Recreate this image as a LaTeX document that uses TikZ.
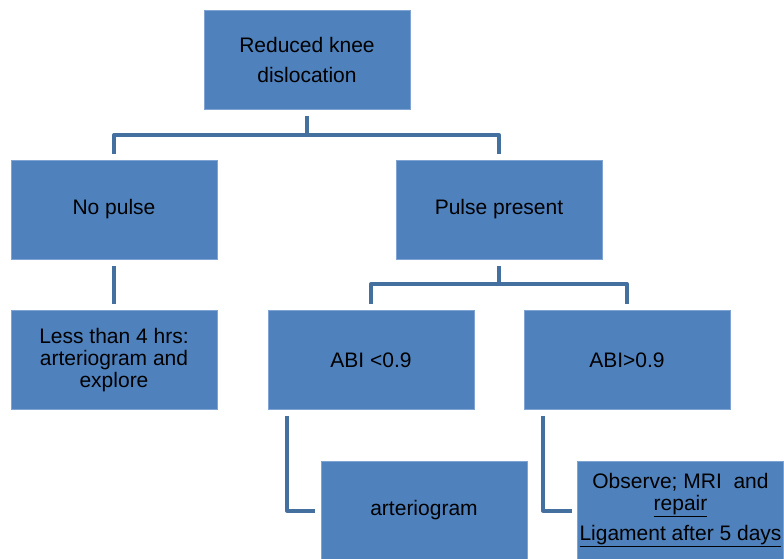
\documentclass[tikz,border=0pt]{standalone}
\usepackage{fontspec}
\setmainfont{Liberation Sans}
\usetikzlibrary{calc}
\definecolor{boxblue}{HTML}{4F81BD}
\definecolor{boxedge}{HTML}{7FA3D3}
\definecolor{connblue}{HTML}{44709F}
\tikzset{
  box/.style={rectangle, fill=boxblue, draw=boxedge, line width=0.6pt,
    minimum width=206pt, minimum height=99pt, inner sep=0pt,
    align=center, text=black, font=\fontsize{21}{22}\selectfont},
  conn/.style={draw=connblue, line width=4pt, line join=round}
}
\begin{document}
\begin{tikzpicture}[x=1pt,y=1pt]
\useasboundingbox[fill=white] (0,0) rectangle (784,558);
\node[box, font=\fontsize{21}{30}\selectfont] (top) at (307,498.5) {Reduced knee\\dislocation};
\node[box] (nopulse) at (114,348.5) {No pulse};
\node[box] (pulse) at (499,348.5) {Pulse present};
\node[box] (less) at (114,198) {Less than 4 hrs:\\arteriogram and\\explore};
\node[box] (abi1) at (371,198) {ABI <0.9};
\node[box] (abi2) at (627,198) {ABI>0.9};
\node[box] (art) at (424,47.5) {arteriogram};
\node[box] (obs) at (680.5,47.5) {Observe; MRI\ \ and\\\underline{repair}\\[8pt]\underline{Ligament after 5 days}};
% top tree
\draw[conn] ([yshift=-7pt]top.south) -- ($(top.south)+(0,-26)$) coordinate (t1);
\draw[conn] ([yshift=6pt]nopulse.north) |- (t1) -| ([yshift=6pt]pulse.north);
% no pulse to less
\draw[conn] ([yshift=-7pt]nopulse.south) -- ([yshift=6pt]less.north);
% pulse tree
\draw[conn] ([yshift=-7pt]pulse.south) -- ($(pulse.south)+(0,-25)$) coordinate (t2);
\draw[conn] ([yshift=6pt]abi1.north) |- (t2) -| ([yshift=6pt]abi2.north);
% elbows
\draw[conn] ($(abi1.south west)+(19,-6)$) |- ([xshift=-6pt]art.west);
\draw[conn] ($(abi2.south west)+(19,-6)$) |- ([xshift=-5pt]obs.west);
\end{tikzpicture}
\end{document}
